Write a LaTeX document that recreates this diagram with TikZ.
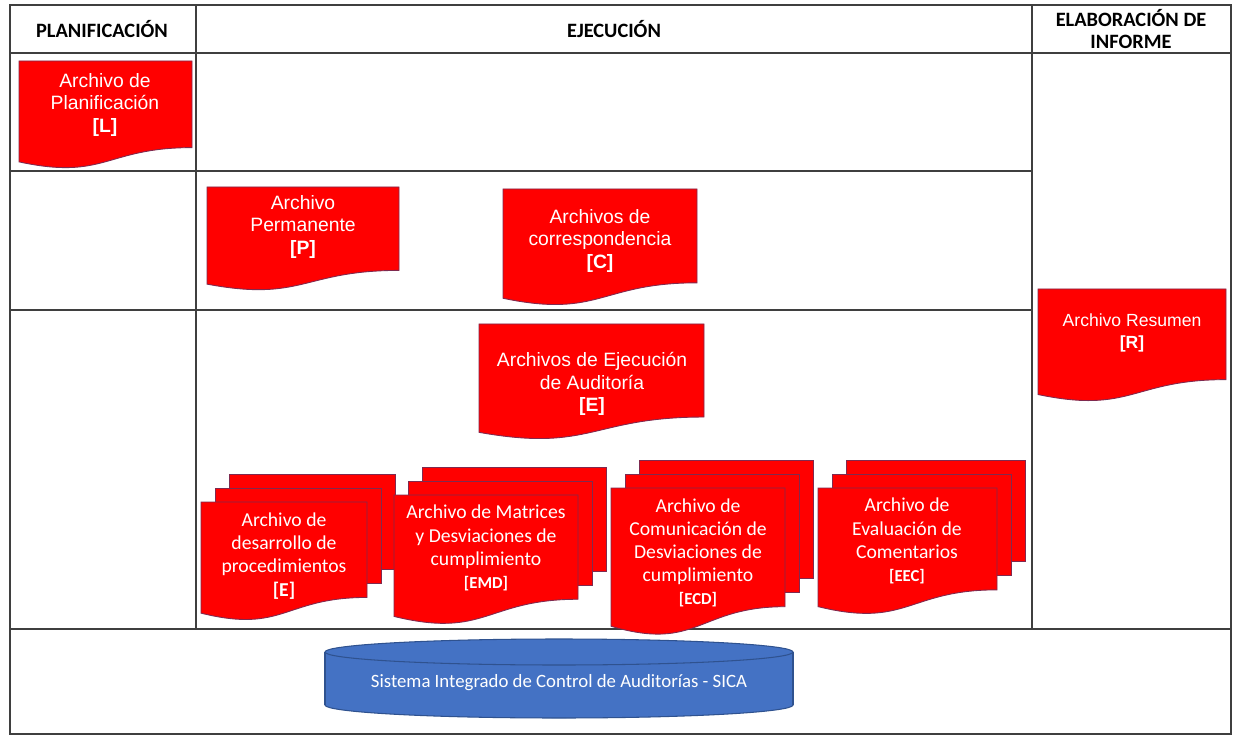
\documentclass[tikz,border=0pt]{standalone}
\usepackage{fontspec}
\setmainfont{Liberation Sans}
\newfontfamily\calibri{Carlito}
\definecolor{archred}{HTML}{FF0000}
\definecolor{archedge}{HTML}{7F2A4F}
\definecolor{gridgray}{HTML}{3F3F3F}
\definecolor{sicablue}{HTML}{4472C4}
\definecolor{sicaedge}{HTML}{2F528F}
\usetikzlibrary{positioning, calc}
% document sheet: left, top, right, height
\newcommand{\archdoc}[4]{\filldraw[arch] (#1,#2) -- (#3,#2) -- (#3,{#2+0.802*#4})
    .. controls ({(#1+#3)/2},{#2+0.802*#4}) and ({(#1+#3)/2},{#2+1.1075*#4}) .. (#1,{#2+0.934*#4}) -- cycle;}
\newcommand{\archstack}[4]{%
  \filldraw[arch] ({#1+28},{#2-28}) rectangle ({#3+28},{#2+0.802*#4-28});
  \filldraw[arch] ({#1+14},{#2-14}) rectangle ({#3+14},{#2+0.802*#4-14});
  \archdoc{#1}{#2}{#3}{#4}}
\newcommand{\code}[1]{{\bfseries\fontsize{9.5}{11}\selectfont #1}}

\begin{document}
\begin{tikzpicture}[x=0.02cm, y=-0.02cm,
    grid/.style={draw=gridgray, line width=0.8pt},
    head/.style={font=\calibri\bfseries\fontsize{11.6}{12.5}\selectfont, align=center, inner sep=0pt},
    arch/.style={fill=archred, draw=archedge, line width=0.5pt},
    archtxt/.style={text=white, align=center, inner sep=0pt, font=\fontsize{11}{13}\selectfont},
    stacktxt/.style={archtxt, font=\calibri\fontsize{11.2}{13.2}\selectfont},
    sica/.style={fill=sicablue, draw=sicaedge, line width=0.6pt},
    sicatxt/.style={text=white, inner sep=0pt, font=\calibri\fontsize{10.7}{13}\selectfont}]
    \useasboundingbox (0,0) rectangle (1233,736);
    \fill[white] (0,0) rectangle (1233,736);

    \draw[grid] (10,5) rectangle (1231,734);
    \draw[grid] (10,53) -- (1231,53);
    \draw[grid] (196,5) -- (196,629);
    \draw[grid] (1032,5) -- (1032,629);
    \draw[grid] (10,171) -- (1032,171);
    \draw[grid] (10,310) -- (1032,310);
    \draw[grid] (10,629) -- (1231,629);

    \node[head] (plan) at (102,29) {PLANIFICACIÓN};
    \node[head] (ejec) at (614,29) {EJECUCIÓN};
    \node[head] (elab) at (1131,29) {ELABORACIÓN DE\\INFORME};

    \archdoc{19}{61}{192}{108}
    \node[archtxt] (planif) at (105,105) {Archivo de\\Planificación\\\textbf{[L]}};
    \archdoc{207}{187}{399}{104}
    \node[archtxt] (perm) at (303,227) {Archivo\\Permanente\\\textbf{[P]}};
    \archdoc{503}{189}{697}{117}
    \node[archtxt] (corr) at (600,241) {Archivos de\\correspondencia\\\textbf{[C]}};
    \archdoc{479}{324}{704}{116}
    \node[archtxt] (ejaud) at (592,384) {Archivos de Ejecución\\de Auditoría\\\textbf{[E]}};
    \archdoc{1038}{289}{1226}{113}
    \node[archtxt, font=\fontsize{10}{13}\selectfont] (resum) at (1132,333) {Archivo Resumen\\\textbf{[R]}};

    \archstack{201}{502}{367}{119}
    \node[stacktxt] (desar) at (284,556) {Archivo de\\desarrollo de\\procedimientos\\\textbf{[E]}};
    \archstack{394}{495}{578}{130}
    \node[stacktxt] (emd) at (486,548) {Archivo de Matrices\\y Desviaciones de\\cumplimiento\\\code{[EMD]}};
    \archstack{611}{488}{785}{148}
    \node[stacktxt] (ecd) at (698,553) {Archivo de\\Comunicación de\\Desviaciones de\\cumplimiento\\\code{[ECD]}};
    \archstack{818}{488}{997}{127}
    \node[stacktxt] (eec) at (907,541) {Archivo de\\Evaluación de\\Comentarios\\\code{[EEC]}};

    \filldraw[sica] (559,705) ellipse [x radius=234, y radius=13];
    \fill[sicablue] (325,652) rectangle (793,705);
    \draw[sicaedge, line width=0.6pt] (325,652) -- (325,705) (793,652) -- (793,705);
    \filldraw[sica] (559,652) ellipse [x radius=234, y radius=13];
    \node[sicatxt] (sicadb) at (559,683) {Sistema Integrado de Control de Auditorías - SICA};
\end{tikzpicture}
\end{document}
